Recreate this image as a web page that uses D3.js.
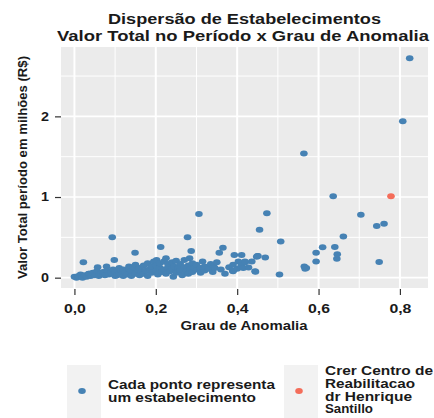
<!DOCTYPE html>
<html>
<head>
<meta charset="utf-8">
<script src="https://cdn.jsdelivr.net/npm/d3@7"></script>
<style>
  body { margin: 0; background: #fff; }
  text { font-family: "Liberation Sans", Arial, sans-serif; font-weight: bold; }
</style>
</head>
<body>
<svg id="chart" width="434" height="418"></svg>
<script>
// Grau de anomalia (eixo x) e valor total em milhões de R$ (eixo y) de cada estabelecimento
const grau = [
  0.000,0.005,0.010,0.012,0.015,0.020,0.022,0.025,0.030,0.035,0.036,0.040,0.045,0.050,
  0.055,0.057,0.060,0.065,0.070,0.075,0.079,0.080,0.085,0.090,0.093,0.095,0.098,0.100,
  0.100,0.105,0.110,0.110,0.115,0.120,0.120,0.125,0.130,0.134,0.135,0.140,0.140,0.145,
  0.149,0.150,0.150,0.155,0.160,0.160,0.165,0.170,0.170,0.175,0.180,0.180,0.185,0.190,
  0.190,0.195,0.200,
  0.200,0.202,0.205,0.210,0.210,0.212,0.215,0.220,0.220,0.225,0.225,0.230,0.230,0.235,
  0.240,0.240,0.243,0.245,0.250,0.250,0.255,0.260,0.260,0.265,0.270,0.270,0.275,0.278,
  0.280,0.280,0.283,0.285,0.287,0.290,0.290,0.295,0.300,
  0.300,0.306,0.310,0.310,0.315,0.320,0.320,0.330,0.335,0.340,0.342,0.345,0.350,0.356,
  0.360,0.365,0.370,0.380,0.389,0.390,0.390,0.393,0.400,0.403,0.410,0.411,0.415,0.419,
  0.420,0.428,0.436,0.444,0.445,0.448,0.450,0.451,0.455,0.469,0.473,
  0.504,0.507,0.564,0.565,0.567,0.570,0.594,0.594,0.610,0.636,0.640,0.645,0.646,0.661,
  0.704,0.743,0.749,0.761,0.807,0.824
];
const valor = [
  0.01,0.00,0.02,0.01,0.04,0.00,0.19,0.03,0.01,0.05,0.05,0.02,0.06,0.03,
  0.08,0.13,0.02,0.05,0.07,0.03,0.14,0.09,0.04,0.06,0.50,0.10,0.22,0.02,
  0.07,0.03,0.12,0.05,0.09,0.02,0.10,0.06,0.04,0.14,0.11,0.08,0.02,0.13,
  0.31,0.05,0.16,0.10,0.03,0.12,0.07,0.15,0.05,0.09,0.18,0.02,0.11,0.14,
  0.06,0.20,0.09,
  0.15,0.22,0.04,0.12,0.18,0.38,0.07,0.10,0.20,0.24,0.05,0.13,0.17,0.08,
  0.11,0.19,0.01,0.14,0.06,0.21,0.12,0.09,0.17,0.03,0.13,0.22,0.08,0.50,
  0.15,0.05,0.24,0.11,0.33,0.18,0.07,0.12,0.10,
  0.16,0.79,0.12,0.06,0.20,0.09,0.14,0.11,0.17,0.07,0.14,0.12,0.19,0.31,
  0.10,0.37,0.05,0.13,0.087,0.08,0.16,0.28,0.11,0.20,0.15,0.28,0.12,0.20,
  0.19,0.125,0.20,0.08,0.075,0.26,0.27,0.27,0.595,0.25,0.80,
  0.04,0.45,1.54,0.14,0.11,0.12,0.31,0.20,0.376,1.01,0.38,0.235,0.29,0.51,
  0.78,0.64,0.195,0.67,1.94,2.72
];
// Estabelecimento em destaque
const destaqueGrau = [0.778];
const destaqueValor = [1.01];

const xTicks = [0, 0.2, 0.4, 0.6, 0.8];
const xMinor = [0.1, 0.3, 0.5, 0.7];
const yTicks = [0, 1, 2];
const yMinor = [0.5, 1.5, 2.5];

const titulo = ["Dispersão de Estabelecimentos", "Valor Total no Período x Grau de Anomalia"];
const tituloX = "Grau de Anomalia";
const tituloY = "Valor Total período em milhões (R$)";
const legendas = [
  ["Cada ponto representa", "um estabelecimento"],
  ["Crer Centro de", "Reabilitacao", "dr Henrique", "Santillo"]
];

const AZUL = "#4682B4";
const VERMELHO = "#F46D5A";
const TEXTO = "#1a1a1a";
const RX = 3.8, RY = 3.0;

const svg = d3.select("#chart");
const painel = { left: 61, right: 428, top: 47, bottom: 288 };

const x = d3.scaleLinear().domain([-0.033, 0.869]).range([painel.left, painel.right]);
const y = d3.scaleLinear().domain([-0.128, 2.86]).range([painel.bottom, painel.top]);

const virgula = v => d3.format(".1f")(v).replace(".", ",");

// Fundo do painel
svg.append("rect")
  .attr("x", painel.left).attr("y", painel.top)
  .attr("width", painel.right - painel.left).attr("height", painel.bottom - painel.top)
  .attr("fill", "#EBEBEB");

// Grade
const grade = svg.append("g").attr("stroke", "#fff");
grade.selectAll(".vmin").data(xMinor).join("line")
  .attr("x1", d => x(d)).attr("x2", d => x(d))
  .attr("y1", painel.top).attr("y2", painel.bottom).attr("stroke-width", 1);
grade.selectAll(".hmin").data(yMinor).join("line")
  .attr("y1", d => y(d)).attr("y2", d => y(d))
  .attr("x1", painel.left).attr("x2", painel.right).attr("stroke-width", 1);
grade.selectAll(".vmaj").data(xTicks).join("line")
  .attr("x1", d => x(d)).attr("x2", d => x(d))
  .attr("y1", painel.top).attr("y2", painel.bottom).attr("stroke-width", 2);
grade.selectAll(".hmaj").data(yTicks).join("line")
  .attr("y1", d => y(d)).attr("y2", d => y(d))
  .attr("x1", painel.left).attr("x2", painel.right).attr("stroke-width", 1.7);

// Eixos
const eixoX = svg.append("g")
  .attr("transform", `translate(0,${painel.bottom + 1})`)
  .call(d3.axisBottom(x).tickValues(xTicks).tickFormat(virgula).tickSize(6).tickPadding(9));
const eixoY = svg.append("g")
  .attr("transform", `translate(${painel.left},0)`)
  .call(d3.axisLeft(y).tickValues(yTicks).tickFormat(d3.format("d")).tickSize(6).tickPadding(6));
[eixoX, eixoY].forEach(g => {
  g.select(".domain").remove();
  g.selectAll(".tick line").attr("stroke", "#333").attr("stroke-width", 1.2);
  g.selectAll(".tick text").attr("fill", TEXTO).style("font-size", "12px")
    .style("font-family", "'Liberation Sans', Arial, sans-serif").style("font-weight", "bold");
});
eixoX.selectAll(".tick text").attr("textLength", 22).attr("lengthAdjust", "spacingAndGlyphs");
eixoY.selectAll(".tick text").attr("textLength", 8).attr("lengthAdjust", "spacingAndGlyphs");

// Pontos
const pontos = grau.map((g, i) => ({ g, v: valor[i] }));
svg.append("g").selectAll("ellipse").data(pontos).join("ellipse")
  .attr("cx", d => x(d.g)).attr("cy", d => y(d.v))
  .attr("rx", RX).attr("ry", RY)
  .attr("fill", AZUL);
svg.append("g").selectAll("ellipse").data(destaqueGrau.map((g, i) => ({ g, v: destaqueValor[i] }))).join("ellipse")
  .attr("cx", d => x(d.g)).attr("cy", d => y(d.v))
  .attr("rx", RX).attr("ry", RY)
  .attr("fill", VERMELHO);

// Títulos
const larguraTitulo = [273, 372];
const centroTitulo = [244.5, 243];
titulo.forEach((t, i) => {
  svg.append("text")
    .attr("x", centroTitulo[i]).attr("y", 24 + i * 16.5)
    .attr("text-anchor", "middle").attr("fill", TEXTO)
    .style("font-size", "15px")
    .attr("textLength", larguraTitulo[i]).attr("lengthAdjust", "spacingAndGlyphs")
    .text(t);
});
svg.append("text")
  .attr("x", 244).attr("y", 330)
  .attr("text-anchor", "middle").attr("fill", TEXTO)
  .style("font-size", "12px")
  .attr("textLength", 127).attr("lengthAdjust", "spacingAndGlyphs")
  .text(tituloX);
svg.append("text")
  .attr("transform", `translate(26.5,${(painel.top + painel.bottom) / 2}) rotate(-90)`)
  .attr("text-anchor", "middle").attr("fill", TEXTO)
  .style("font-size", "12px")
  .attr("textLength", 223).attr("lengthAdjust", "spacingAndGlyphs")
  .text(tituloY);

// Legenda
const chaves = [
  { x: 67, cor: AZUL, tx: 108, linhas: legendas[0], larguras: [167, 148], base: 389 },
  { x: 284, cor: VERMELHO, tx: 325, linhas: legendas[1], larguras: [108, 90, 87, 48], base: 375 }
];
chaves.forEach(c => {
  svg.append("rect").attr("x", c.x).attr("y", 365).attr("width", 34).attr("height", 60)
    .attr("fill", "#F2F2F2");
  svg.append("ellipse").attr("cx", c.x + 15).attr("cy", 391).attr("rx", RX).attr("ry", RY)
    .attr("fill", c.cor);
  c.linhas.forEach((l, i) => {
    svg.append("text")
      .attr("x", c.tx).attr("y", c.base + i * 12.8)
      .attr("fill", TEXTO).style("font-size", "12px")
      .attr("textLength", c.larguras[i]).attr("lengthAdjust", "spacingAndGlyphs")
      .text(l);
  });
});
</script>
</body>
</html>
